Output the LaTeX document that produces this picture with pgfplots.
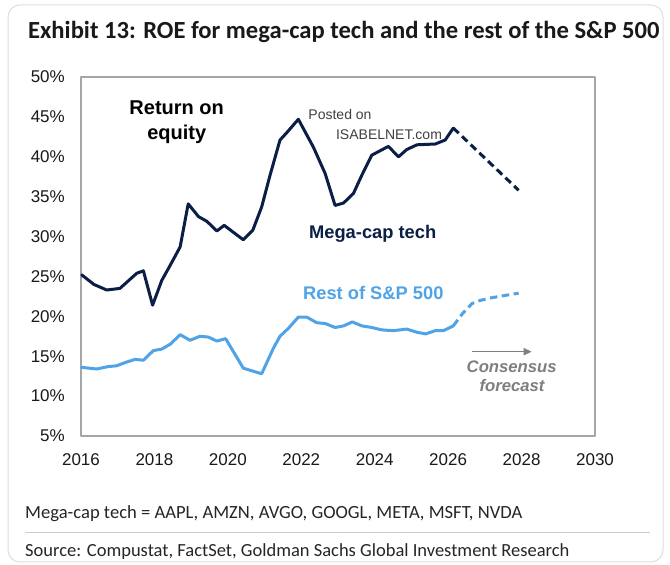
\documentclass[border=0pt]{standalone}
\usepackage{fontspec}
\setmainfont{Liberation Sans}
\newfontfamily\carlito{Carlito}
\usepackage{pgfplots}
\pgfplotsset{compat=1.18}
\usetikzlibrary{arrows.meta}
\definecolor{navy}{HTML}{0A1E46}
\definecolor{lightb}{HTML}{4FA3E6}
\definecolor{boxgray}{HTML}{A6A6A6}
\definecolor{fcgray}{HTML}{7F7F7F}
\begin{document}
\begin{tikzpicture}[x=1bp,y=1bp]
\useasboundingbox (0,0) rectangle (670,565);
\fill[white] (0,0) rectangle (670,565);
\draw[draw=black!13, line width=1bp, rounded corners=12bp] (8,3) rectangle (663,560);
\begin{axis}[
  at={(81bp,129bp)}, anchor=south west,
  scale only axis, width=514bp, height=359bp,
  xmin=2016, xmax=2030, ymin=5, ymax=50,
  xtick={2016,2018,...,2030}, ytick={5,10,...,50},
  axis line style={draw=boxgray, line width=1.3bp},
  major tick length=0pt, tick style={draw=none},
  /pgf/number format/assume math mode=true,
  /pgf/number format/1000 sep={},
  xticklabel style={font=\fontsize{17bp}{19bp}\selectfont, inner sep=0pt, yshift=-17bp, text=black!90},
  yticklabel style={font=\fontsize{17bp}{19bp}\selectfont, inner sep=0pt, xshift=-16bp, text=black!90},
  yticklabel={\pgfmathprintnumber{\tick}\%},
  clip=false,
  line join=round, line cap=round,
]
\addplot[navy, line width=3bp] coordinates {
(2016.02,25.2) (2016.35,24.0) (2016.70,23.3) (2017.06,23.5) (2017.52,25.4) (2017.70,25.7)
(2017.95,21.4) (2018.20,24.5) (2018.43,26.4) (2018.70,28.7) (2018.92,34.1) (2019.20,32.5)
(2019.43,31.9) (2019.70,30.7) (2019.90,31.4) (2020.42,29.6) (2020.68,30.8) (2020.92,33.7)
(2021.15,37.7) (2021.42,42.1) (2021.60,43.0) (2021.92,44.7) (2022.33,41.2) (2022.65,37.9)
(2022.92,33.9) (2023.15,34.2) (2023.42,35.4) (2023.65,37.7) (2023.92,40.2) (2024.37,41.3)
(2024.65,40.0) (2024.87,40.9) (2025.15,41.5) (2025.65,41.6) (2025.92,42.1) (2026.14,43.6)
};
\addplot[navy, line width=3bp, line cap=butt, dash pattern=on 7.5bp off 4.5bp] coordinates {
(2026.14,43.6) (2027.92,35.8)
};
\addplot[lightb, line width=3bp] coordinates {
(2016.02,13.6) (2016.43,13.4) (2016.74,13.7) (2016.97,13.8) (2017.20,14.2) (2017.47,14.6)
(2017.70,14.5) (2017.97,15.7) (2018.20,15.9) (2018.43,16.5) (2018.70,17.7) (2018.97,17.0)
(2019.24,17.5) (2019.47,17.4) (2019.70,16.9) (2019.94,17.2) (2020.42,13.5) (2020.92,12.8)
(2021.24,16.0) (2021.42,17.5) (2021.65,18.5) (2021.92,19.9) (2022.15,19.9) (2022.42,19.2)
(2022.65,19.1) (2022.92,18.6) (2023.15,18.8) (2023.39,19.3) (2023.65,18.8) (2023.92,18.6)
(2024.19,18.3) (2024.51,18.2) (2024.87,18.4) (2025.15,18.0) (2025.39,17.8) (2025.65,18.2)
(2025.87,18.2) (2026.14,18.8)
};
\addplot[lightb, line width=3bp, line cap=butt, dash pattern=on 7.5bp off 4.5bp] coordinates {
(2026.14,18.8) (2026.40,20.4) (2026.65,21.6) (2026.88,22.0) (2027.15,22.3) (2027.40,22.5)
(2027.65,22.7) (2027.92,22.9)
};
\end{axis}
% annotations
\node[anchor=base, font=\fontsize{20bp}{24bp}\selectfont\bfseries, inner sep=0pt] at (176.7,450) {Return on};
\node[anchor=base, font=\fontsize{20bp}{24bp}\selectfont\bfseries, inner sep=0pt] at (176.7,425) {equity};
\node[anchor=center, font=\fontsize{14bp}{16bp}\selectfont, inner sep=0pt, text=black!75] at (340,450) {Posted on};
\node[anchor=center, font=\fontsize{14bp}{16bp}\selectfont, inner sep=0pt, text=black!75] at (389,430) {ISABELNET.com};
\node[anchor=base, font=\fontsize{18.3bp}{22bp}\selectfont\bfseries, inner sep=0pt, text=navy] at (372.7,326.7) {Mega-cap tech};
\node[anchor=base, font=\fontsize{18.3bp}{22bp}\selectfont\bfseries, inner sep=0pt, text=lightb] at (373.3,265.7) {Rest of S\&P 500};
\draw[fcgray, line width=1.5bp, -{Triangle[length=8bp,width=7bp]}] (471.7,213.3) -- (531.7,213.3);
\node[anchor=base, font=\fontsize{16.7bp}{20bp}\selectfont\bfseries\itshape, inner sep=0pt, text=fcgray] at (511.7,192.3) {Consensus};
\node[anchor=base, font=\fontsize{16.7bp}{20bp}\selectfont\bfseries\itshape, inner sep=0pt, text=fcgray] at (512,173.3) {forecast};
% title and footer
\node[anchor=base west, font=\carlito\fontsize{24.6bp}{28bp}\selectfont\bfseries, inner sep=0pt, text=black!90] at (28,526.5) {Exhibit 13: ROE for mega-cap tech and the rest of the S\&P 500};
\node[anchor=base west, font=\carlito\fontsize{18.6bp}{22bp}\selectfont, inner sep=0pt, text=black!85] at (25,46) {Mega-cap tech = AAPL, AMZN, AVGO, GOOGL, META, MSFT, NVDA};
\draw[black!20, line width=1bp] (25,32) -- (650,32);
\node[anchor=base west, font=\carlito\fontsize{18.5bp}{22bp}\selectfont, inner sep=0pt, text=black!85] at (25,8) {Source: Compustat, FactSet, Goldman Sachs Global Investment Research};
\end{tikzpicture}
\end{document}
